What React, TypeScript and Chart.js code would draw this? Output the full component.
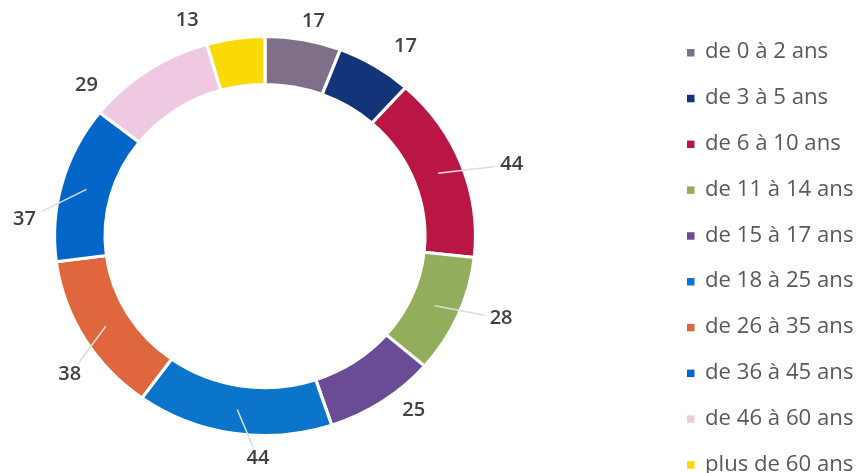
import { useEffect, useRef } from 'react';
import { Chart, registerables } from 'chart.js';
Chart.register(...registerables);

const categories = [
  'de 0 à 2 ans',
  'de 3 à 5 ans',
  'de 6 à 10 ans',
  'de 11 à 14 ans',
  'de 15 à 17 ans',
  'de 18 à 25 ans',
  'de 26 à 35 ans',
  'de 36 à 45 ans',
  'de 46 à 60 ans',
  'plus de 60 ans',
];
const values = [17, 17, 44, 28, 25, 44, 38, 37, 29, 13];
const colors = [
  '#7F6F88',
  '#14347A',
  '#BA1645',
  '#92AD5B',
  '#6A4C96',
  '#0A75CA',
  '#E0663E',
  '#0466C8',
  '#EFC9E2',
  '#F9DA04',
];

// label layout (style): angular nudge in degrees, gap beyond the ring, leader line
const labelNudgeDeg = [1.6, 3.7, 4, -3.2, -5, -6.9, -6.1, -11.4, -14.4, -10.9];
const labelGap = [20, 32, 45, 39, 25, 23, 32, 29, 27, 28];
const labelLeader = [false, false, true, true, false, true, true, true, false, false];

const SX = 1.055;
const LABEL_FONT = '600 19px "Open Sans"';
const LEGEND_FONT = '21px "Open Sans"';

export default function App() {
  const ref = useRef<HTMLCanvasElement>(null);
  useEffect(() => {
    const canvas = ref.current;
    if (!canvas) return;

    const ellipse = {
      id: 'ellipse',
      beforeDatasetsDraw(chart: any) {
        const a = chart.getDatasetMeta(0).data[0];
        const ctx = chart.ctx;
        ctx.save();
        ctx.translate(a.x, a.y);
        ctx.scale(SX, 1);
        ctx.translate(-a.x, -a.y);
      },
      afterDatasetsDraw(chart: any) {
        chart.ctx.restore();
      },
    };

    const labels = {
      id: 'outerLabels',
      afterDraw(chart: any) {
        const ctx = chart.ctx;
        const meta = chart.getDatasetMeta(0);
        ctx.save();
        ctx.font = LABEL_FONT;
        ctx.textAlign = 'center';
        ctx.textBaseline = 'middle';
        meta.data.forEach((arc: any, i: number) => {
          const p = arc.getProps(['x', 'y', 'startAngle', 'endAngle', 'outerRadius', 'innerRadius']);
          const mid = (p.startAngle + p.endAngle) / 2;
          const ang = mid + (labelNudgeDeg[i] * Math.PI) / 180;
          const r = p.outerRadius + labelGap[i];
          const x = p.x + Math.cos(ang) * r * SX;
          const y = p.y + Math.sin(ang) * r;
          const text = String(values[i]);
          if (labelLeader[i]) {
            const rm = (p.outerRadius + p.innerRadius) / 2;
            const cx = p.x + Math.cos(mid) * rm * SX;
            const cy = p.y + Math.sin(mid) * rm;
            const dx = cx - x;
            const dy = cy - y;
            const hw = (ctx.measureText(text).width * SX) / 2 + 5;
            const hh = 11;
            const t = Math.min(
              Math.abs(dx) > 0.001 ? hw / Math.abs(dx) : Infinity,
              Math.abs(dy) > 0.001 ? hh / Math.abs(dy) : Infinity
            );
            ctx.strokeStyle = '#DDDDDD';
            ctx.lineWidth = 1.5;
            ctx.beginPath();
            ctx.moveTo(cx, cy);
            ctx.lineTo(x + dx * t, y + dy * t);
            ctx.stroke();
          }
          ctx.save();
          ctx.translate(x, y);
          ctx.scale(SX, 1);
          ctx.fillStyle = '#404040';
          ctx.fillText(text, 0, 0);
          ctx.restore();
        });
        ctx.restore();
      },
    };

    const legend = {
      id: 'sideLegend',
      afterDraw(chart: any) {
        const ctx = chart.ctx;
        const startY = 52.5;
        const step = 45.8;
        ctx.save();
        ctx.font = LEGEND_FONT;
        ctx.textBaseline = 'middle';
        ctx.textAlign = 'left';
        categories.forEach((c, i) => {
          const y = startY + i * step;
          ctx.fillStyle = colors[i];
          ctx.fillRect(687, y - 3.5, 7.5, 7.5);
          ctx.save();
          ctx.translate(705, y);
          ctx.scale(SX, 1);
          ctx.fillStyle = '#595959';
          ctx.fillText(c, 0, 0);
          ctx.restore();
        });
        ctx.restore();
      },
    };

    const chart = new Chart(canvas, {
      type: 'doughnut',
      data: {
        labels: categories,
        datasets: [
          {
            data: values,
            backgroundColor: colors,
            borderColor: '#FFFFFF',
            borderWidth: 3,
          },
        ],
      },
      options: {
        responsive: false,
        animation: false,
        cutout: '76%',
        layout: { padding: { left: 64, right: 392, top: 35, bottom: 36 } },
        plugins: {
          legend: { display: false },
          tooltip: { enabled: false },
        },
      },
      plugins: [ellipse, labels, legend],
    });
    return () => chart.destroy();
  }, []);

  return (
    <div style={{ position: 'fixed', left: 0, top: 0, width: 858, height: 473, background: '#fff' }}>
      <canvas ref={ref} width={858} height={473} style={{ width: 858, height: 473 }} />
    </div>
  );
}
